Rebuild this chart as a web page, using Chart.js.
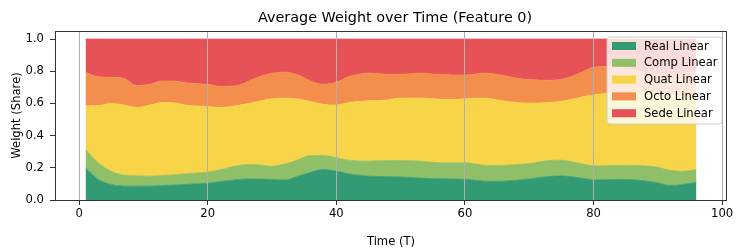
<!DOCTYPE html>
<html>
<head>
<meta charset="utf-8">
<script src="https://cdn.jsdelivr.net/npm/chart.js@4/dist/chart.umd.min.js"></script>
<style>
html,body{margin:0;padding:0;background:#fff;}
#wrap{width:747px;height:249px;position:relative;}
</style>
</head>
<body>
<div id="wrap"><canvas id="c" width="747" height="249"></canvas></div>
<script>
// ---- data (shares) ----
const times = [1,3,5,7,9,11,13,15,17,20,22,25,27,30,32,34,36,38,40,42,45,48,50,53,55,58,60,63,65,68,70,73,75,77,79,80,83,85,87,90,92,94,96];
const realLinear = [0.199,0.127,0.096,0.086,0.086,0.086,0.090,0.093,0.098,0.104,0.115,0.128,0.130,0.128,0.124,0.147,0.172,0.189,0.179,0.162,0.148,0.145,0.143,0.136,0.133,0.130,0.129,0.117,0.115,0.123,0.131,0.146,0.150,0.142,0.130,0.124,0.127,0.127,0.123,0.106,0.090,0.096,0.110];
const compLinear = [0.114,0.103,0.083,0.068,0.064,0.062,0.062,0.064,0.067,0.069,0.074,0.088,0.090,0.082,0.100,0.102,0.104,0.087,0.084,0.085,0.093,0.100,0.102,0.105,0.101,0.100,0.102,0.099,0.099,0.097,0.095,0.099,0.097,0.092,0.088,0.088,0.087,0.088,0.091,0.097,0.093,0.083,0.079];
const quatLinear = [0.272,0.357,0.421,0.436,0.425,0.442,0.454,0.446,0.422,0.408,0.386,0.374,0.385,0.419,0.409,0.379,0.336,0.318,0.327,0.359,0.375,0.377,0.388,0.393,0.395,0.394,0.398,0.417,0.408,0.386,0.376,0.361,0.366,0.395,0.429,0.441,0.451,0.450,0.451,0.457,0.472,0.471,0.456];
const octoLinear = [0.208,0.178,0.162,0.165,0.136,0.129,0.134,0.135,0.139,0.138,0.130,0.125,0.145,0.159,0.161,0.149,0.128,0.125,0.141,0.161,0.172,0.159,0.148,0.154,0.154,0.153,0.148,0.155,0.159,0.151,0.146,0.137,0.137,0.144,0.163,0.172,0.165,0.150,0.135,0.125,0.130,0.140,0.150];
const sedeLinear = [0.207,0.235,0.238,0.245,0.289,0.281,0.260,0.262,0.274,0.281,0.295,0.285,0.250,0.212,0.206,0.223,0.260,0.281,0.269,0.233,0.212,0.219,0.219,0.212,0.217,0.223,0.223,0.212,0.219,0.243,0.252,0.257,0.250,0.227,0.190,0.175,0.170,0.185,0.200,0.215,0.215,0.210,0.205];

const seriesNames = ['Real Linear','Comp Linear','Quat Linear','Octo Linear','Sede Linear'];
const seriesValues = [realLinear, compLinear, quatLinear, octoLinear, sedeLinear];
const seriesColors = ['#339b73','#8fbf66','#f7d448','#f48e4c','#e75257'];
const xTicks = [0,20,40,60,80,100];
const yTicks = [0.0,0.2,0.4,0.6,0.8,1.0];

const titleText = 'Average Weight over Time (Feature 0)';
const FONT = '"DejaVu Sans", sans-serif';
const FS = 11.6;

const datasets = seriesNames.map((name, k) => ({
  label: name,
  data: times.map((t, i) => ({x: t, y: seriesValues[k][i]})),
  backgroundColor: seriesColors[k],
  borderColor: seriesColors[k],
  borderWidth: 0.75,
  pointRadius: 0,
  pointHoverRadius: 0,
  fill: k === 0 ? 'origin' : '-1',
  cubicInterpolationMode: 'monotone'
}));

const decor = {
  id: 'decor',
  afterDraw(chart) {
    const ctx = chart.ctx;
    const a = chart.chartArea;
    ctx.save();
    // frame
    ctx.strokeStyle = '#333';
    ctx.lineWidth = 1;
    ctx.strokeRect(Math.round(a.left) + 0.5, Math.round(a.top) + 0.5,
                   Math.round(a.right - a.left) - 1, Math.round(a.bottom - a.top));
    // title
    ctx.fillStyle = '#000';
    ctx.font = '14.4px ' + FONT;
    ctx.textAlign = 'center';
    ctx.textBaseline = 'middle';
    ctx.fillText(titleText, (a.left + a.right) / 2 + 4, 18);
    // legend
    const lx = 607, ly = 37, lw = 115, lh = 87, r = 3;
    ctx.beginPath();
    ctx.moveTo(lx + r, ly);
    ctx.lineTo(lx + lw - r, ly);
    ctx.quadraticCurveTo(lx + lw, ly, lx + lw, ly + r);
    ctx.lineTo(lx + lw, ly + lh - r);
    ctx.quadraticCurveTo(lx + lw, ly + lh, lx + lw - r, ly + lh);
    ctx.lineTo(lx + r, ly + lh);
    ctx.quadraticCurveTo(lx, ly + lh, lx, ly + lh - r);
    ctx.lineTo(lx, ly + r);
    ctx.quadraticCurveTo(lx, ly, lx + r, ly);
    ctx.closePath();
    ctx.fillStyle = 'rgba(255,255,255,0.8)';
    ctx.fill();
    ctx.strokeStyle = '#cccccc';
    ctx.lineWidth = 1;
    ctx.stroke();
    ctx.font = FS + 'px ' + FONT;
    ctx.textAlign = 'left';
    chart.data.datasets.forEach((ds, i) => {
      const cy = 46 + i * 16.8;
      ctx.fillStyle = ds.backgroundColor;
      ctx.fillRect(612, cy - 4, 24, 8);
      ctx.fillStyle = '#000';
      ctx.fillText(ds.label, 644, cy + 0.5);
    });
    ctx.restore();
  }
};

new Chart(document.getElementById('c'), {
  type: 'line',
  data: { datasets },
  options: {
    responsive: false,
    animation: false,
    events: [],
    layout: { padding: { top: 31, right: 20, left: 0, bottom: 0 } },
    plugins: { legend: { display: false }, title: { display: false }, tooltip: { enabled: false } },
    scales: {
      x: {
        type: 'linear',
        min: -3.75,
        max: 100.75,
        afterBuildTicks(scale) { scale.ticks = xTicks.map(v => ({value: v})); },
        afterFit(scale) { scale.height = 49; },
        ticks: { color: '#000', font: { family: FONT, size: FS }, padding: 2, maxRotation: 0,
                 callback: v => String(v) },
        grid: { z: 1, color: '#b0b0b0', lineWidth: 1, tickColor: '#333', tickLength: 5, drawOnChartArea: true, drawTicks: true },
        border: { display: false },
        title: { display: true, text: 'Time (T)', color: '#000', font: { family: FONT, size: FS }, padding: { top: 0, bottom: 0 } }
      },
      y: {
        type: 'linear',
        stacked: true,
        min: 0,
        max: 1.05,
        afterBuildTicks(scale) { scale.ticks = yTicks.map(v => ({value: v})); },
        afterFit(scale) { scale.width = 55; },
        ticks: { color: '#000', font: { family: FONT, size: FS }, padding: 6,
                 callback: v => Number(v).toFixed(1) },
        grid: { drawOnChartArea: false, tickColor: '#333', tickLength: 5, drawTicks: true },
        border: { display: false },
        title: { display: true, text: 'Weight (Share)', color: '#000', font: { family: FONT, size: FS }, padding: { top: 10, bottom: 0 } }
      }
    }
  },
  plugins: [decor]
});
</script>
</body>
</html>
